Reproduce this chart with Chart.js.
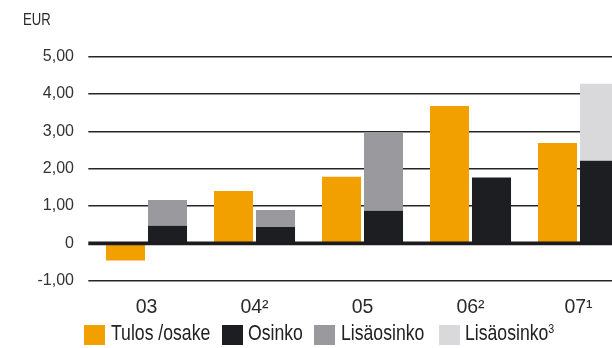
<!DOCTYPE html>
<html>
<head>
<meta charset="utf-8">
<script src="https://cdn.jsdelivr.net/npm/chart.js@4.4.1/dist/chart.umd.min.js"></script>
<style>
body { margin: 0; width: 612px; height: 348px; overflow: hidden; background: #fff; }
#wrap { position: relative; width: 640px; height: 348px; }
#legend { position: absolute; left: 0; top: 325px; width: 640px; height: 21px;
  font-family: 'Liberation Sans', Arial, sans-serif; font-size: 21.5px; color: #222; }
#legend .item { position: absolute; top: 0; height: 20px; white-space: nowrap; }
#legend .key { position: absolute; left: 0; top: 0; width: 21px; height: 20px; }
/* no narrow face installed, so squeeze the regular one */
#legend .txt { position: absolute; left: 26.5px; top: -4px; line-height: 24px;
  transform: scaleX(0.82); transform-origin: 0 0; }
#legend sup { font-size: 13px; line-height: 1; vertical-align: top; position: relative; top: 1px; }
</style>
</head>
<body>
<div id="wrap">
  <canvas id="eps"></canvas>
  <div id="legend"></div>
</div>
<script>
const years = ['03', '04²', '05', '06²', '07¹'];
const tulosOsake = [-0.46, 1.40, 1.78, 3.68, 2.69];
const osinko = [0.47, 0.44, 0.87, 1.76, 2.21];
const lisaosinko = [0.69, 0.45, 2.11, null, null];
const lisaosinko3 = [null, null, null, null, 2.06];

const ORANGE = '#f29f00', BLACK = '#1d1e21', GREY = '#9a999d', LIGHT = '#d9d9db';

const series = [
  { label: 'Tulos /osake', data: tulosOsake, color: ORANGE, stack: 'tulos' },
  { label: 'Osinko', data: osinko, color: BLACK, stack: 'osinko' },
  { label: 'Lisäosinko', data: lisaosinko, color: GREY, stack: 'osinko' },
  { label: 'Lisäosinko', sup: '3', data: lisaosinko3, color: LIGHT, stack: 'osinko' }
];
const legendLeft = [84, 221.5, 314, 438.5];

// thick zero line on top of the bars, plus the unit label
const extras = {
  id: 'extras',
  afterDatasetsDraw(chart) {
    const { ctx, chartArea, scales } = chart;
    const y0 = scales.y.getPixelForValue(0);
    ctx.save();
    ctx.strokeStyle = '#1c1c1e';
    ctx.lineWidth = 3.7;
    ctx.beginPath();
    ctx.moveTo(chartArea.left - 4.2, y0);
    ctx.lineTo(chartArea.right, y0);
    ctx.stroke();
    ctx.fillStyle = '#2a2a2a';
    ctx.font = '16px "Liberation Sans", sans-serif';
    ctx.textBaseline = 'middle';
    ctx.translate(23, 21);
    ctx.scale(0.82, 1);
    ctx.fillText('EUR', 0, 0);
    ctx.restore();
  }
};

new Chart(document.getElementById('eps'), {
  type: 'bar',
  data: {
    labels: years,
    datasets: series.map(s => ({
      label: s.label, data: s.data, stack: s.stack,
      backgroundColor: s.color, borderWidth: 0,
      categoryPercentage: 0.778, barPercentage: 0.929
    }))
  },
  options: {
    responsive: true,
    maintainAspectRatio: false,
    animation: false,
    layout: { padding: { top: 56.6, left: 0, right: 7.5, bottom: 0 } },
    plugins: { legend: { display: false }, tooltip: { enabled: false } },
    scales: {
      x: {
        stacked: true,
        grid: { display: false, drawTicks: false },
        border: { display: false },
        ticks: { color: '#2a2a2a', padding: 15, font: { family: 'Liberation Sans', size: 19.5 } },
        afterFit(s) { s.height = 67.3; }
      },
      y: {
        stacked: true,
        min: -1, max: 5,
        grid: {
          color: '#262626',
          tickLength: 4.2,
          lineWidth: c => (c.tick && c.tick.value === 0 ? 0 : 1.5)
        },
        border: { display: false },
        ticks: {
          stepSize: 1, color: '#333', padding: 14.3,
          font: { family: 'Liberation Sans', size: 16 },
          callback: v => (v === 0 ? '0' : v.toFixed(2).replace('.', ','))
        },
        afterFit(s) { s.width = 92.5; }
      }
    }
  },
  plugins: [extras]
});

document.getElementById('legend').innerHTML = series.map((s, i) =>
  `<span class="item" style="left:${legendLeft[i]}px"><span class="key" style="background:${s.color}"></span>` +
  `<span class="txt">${s.label}${s.sup ? `<sup>${s.sup}</sup>` : ''}</span></span>`
).join('');
</script>
</body>
</html>
